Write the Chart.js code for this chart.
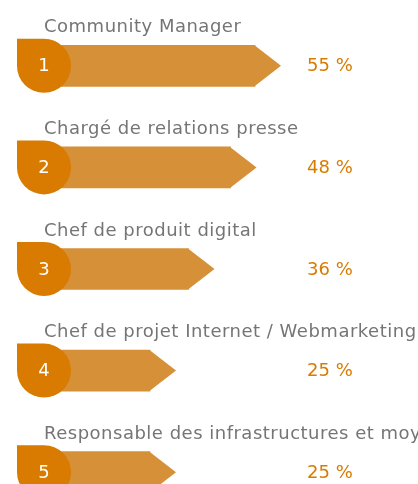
<!DOCTYPE html>
<html>
<head>
<meta charset="utf-8">
<script src="https://cdn.jsdelivr.net/npm/chart.js@4"></script>
<style>
  html, body { margin: 0; padding: 0; background: #fff; overflow: hidden; }
  #wrap { position: relative; width: 418px; height: 523px; }
</style>
</head>
<body>
<div id="wrap"><canvas id="jobsChart"></canvas></div>
<script>
// ===== DATA =====
const jobs = [
  "Community Manager",
  "Chargé de relations presse",
  "Chef de produit digital",
  "Chef de projet Internet / Webmarketing",
  "Responsable des infrastructures et moyens informatiques"
];
const ranks = ["1", "2", "3", "4", "5"];
const shares = [55, 48, 36, 25, 25];

const BADGE = "#d87b00";
const BAR = "#d69037";
const LABEL = "#757575";
const FONT = "'DejaVu Sans', sans-serif";

// ===== ARROWS, BADGES, TEXT =====
const arrowPlugin = {
  id: "arrowPlugin",
  afterDatasetsDraw(chart) {
    const c = chart.ctx;
    const bars = chart.getDatasetMeta(0).data;
    bars.forEach((b, i) => {
      const top = b.y - b.height / 2;
      const bot = b.y + b.height / 2;

      // arrow tip
      c.save();
      c.fillStyle = BAR;
      c.beginPath();
      c.moveTo(b.x - 0.5, top);
      c.lineTo(b.x + 26, b.y);
      c.lineTo(b.x - 0.5, bot);
      c.closePath();
      c.fill();

      // badge: square top-left corner, round elsewhere
      const cx = 44, r = 27;
      c.fillStyle = BADGE;
      c.beginPath();
      c.moveTo(cx - r, b.y - r);
      c.lineTo(cx, b.y - r);
      c.arc(cx, b.y, r, -Math.PI / 2, Math.PI, false);
      c.closePath();
      c.fill();

      c.fillStyle = "#fff";
      c.font = "18px " + FONT;
      c.textAlign = "center";
      c.textBaseline = "middle";
      c.fillText(ranks[i], cx, b.y + 1);

      // job title above the bar
      c.fillStyle = LABEL;
      c.textAlign = "left";
      c.textBaseline = "alphabetic";
      c.font = "18px " + FONT;
      c.letterSpacing = "0.5px";
      c.fillText(jobs[i], 44, b.y - 33.5);
      c.letterSpacing = "0px";

      // percentage
      c.fillStyle = BADGE;
      c.font = "18px " + FONT;
      c.textBaseline = "middle";
      c.fillText(shares[i] + " %", 307, b.y + 1);
      c.restore();
    });
  }
};

new Chart(document.getElementById("jobsChart"), {
  type: "bar",
  data: {
    labels: jobs,
    datasets: [{
      data: shares,
      base: -5,
      backgroundColor: BAR,
      borderWidth: 0,
      barThickness: 41
    }]
  },
  options: {
    indexAxis: "y",
    responsive: true,
    maintainAspectRatio: false,
    animation: false,
    layout: { padding: { left: 17, right: 5.5, top: 15, bottom: 0 } },
    scales: {
      x: { display: false, min: -13, max: 100 },
      y: { display: false }
    },
    plugins: {
      legend: { display: false },
      tooltip: { enabled: false }
    }
  },
  plugins: [arrowPlugin]
});
</script>
</body>
</html>
